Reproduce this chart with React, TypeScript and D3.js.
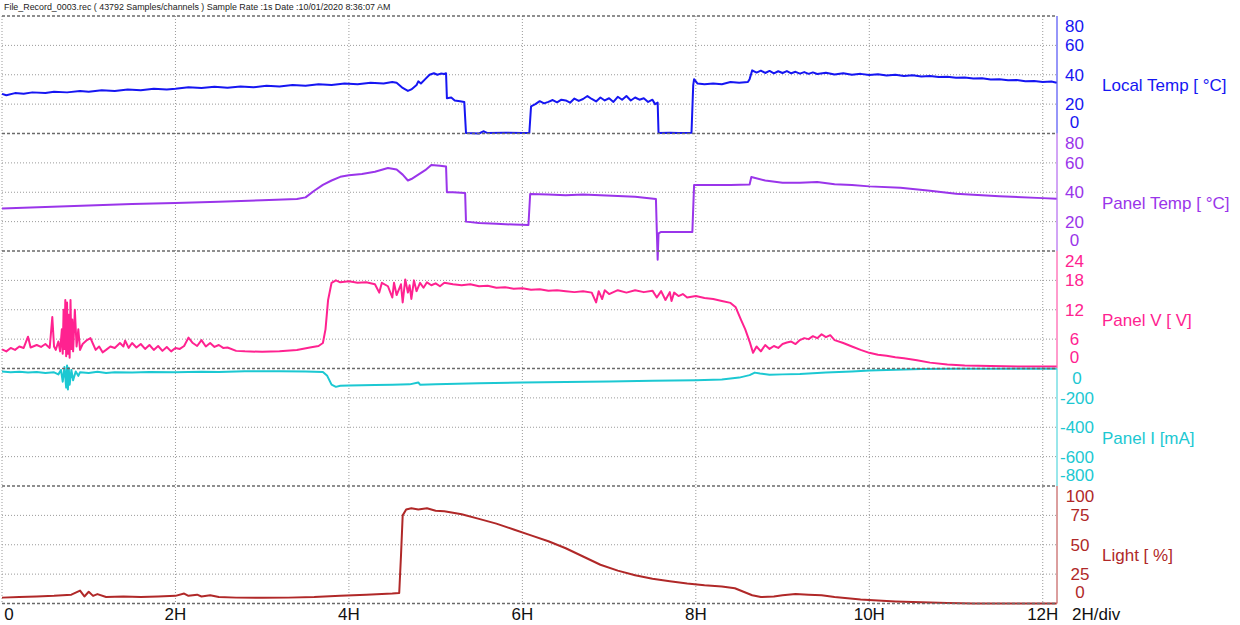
import React from "react";
import * as d3 from "d3";

const titleText =
  "File_Record_0003.rec ( 43792 Samples/channels ) Sample Rate :1s Date :10/01/2020 8:36:07 AM";

const xTickHours = [0, 2, 4, 6, 8, 10, 12];
const xTickLabels = ["0", "2H", "4H", "6H", "8H", "10H", "12H"];
const xUnitLabel = "2H/div";
const totalHours = 43792 / 3600;

const seriesNames = ["Local Temp [ °C]", "Panel Temp [ °C]", "Panel V [ V]", "Panel I [mA]", "Light [ %]"];
const seriesDomains: [number, number][] = [[0, 80], [0, 80], [0, 24], [-800, 0], [0, 100]];
const seriesTicks = [
  [80, 60, 40, 20, 0],
  [80, 60, 40, 20, 0],
  [24, 18, 12, 6, 0],
  [0, -200, -400, -600, -800],
  [100, 75, 50, 25, 0],
];

// [hours, value]
const localTemp: [number, number][] = [
  [0, 27], [0.05, 26], [0.15, 27.5], [0.25, 27], [0.35, 28], [0.5, 27.5], [0.6, 28.5], [0.75, 28], [0.9, 29],
  [1.0, 28.5], [1.15, 29.5], [1.3, 29], [1.45, 30], [1.6, 29.5], [1.75, 30.5], [1.9, 30], [2.0, 30.5],
  [2.15, 31.5], [2.3, 31], [2.45, 31.8], [2.6, 31.2], [2.75, 32], [2.9, 31.5], [3.05, 32.5], [3.2, 32],
  [3.35, 33], [3.5, 32.5], [3.65, 33.5], [3.8, 33], [3.95, 34], [4.1, 33.5], [4.25, 34.5], [4.4, 34],
  [4.5, 35], [4.55, 34.5], [4.62, 31], [4.68, 29], [4.72, 30], [4.78, 33], [4.8, 35.5], [4.83, 34],
  [4.88, 37], [4.93, 40], [4.98, 41], [5.02, 40], [5.06, 40.8], [5.1, 40.5], [5.12, 41], [5.13, 24],
  [5.18, 24.5], [5.22, 22.5], [5.28, 22], [5.33, 21.5], [5.35, 0.3], [5.5, 0], [5.55, 1.5], [5.6, 0.3],
  [5.8, 0.5], [6.0, 0.3], [6.08, 0.3], [6.1, 18.5], [6.15, 20], [6.2, 22], [6.25, 20.5], [6.3, 21.5],
  [6.35, 22.8], [6.4, 21.2], [6.45, 23], [6.5, 22.5], [6.55, 21], [6.6, 23.8], [6.65, 22.2], [6.7, 23.5],
  [6.75, 25.5], [6.8, 23.5], [6.85, 21.8], [6.9, 24.5], [6.95, 22.5], [7.0, 24], [7.05, 21.5],
  [7.1, 25], [7.15, 23], [7.2, 25.5], [7.25, 22.5], [7.3, 24.5], [7.35, 23], [7.4, 24], [7.45, 21.5],
  [7.5, 23], [7.53, 20], [7.56, 21], [7.57, 0.3], [7.7, 0.5], [7.8, 0.3], [7.95, 0.5], [7.97, 33],
  [7.98, 37], [8.02, 34], [8.1, 33.5], [8.2, 34], [8.3, 33.5], [8.4, 35], [8.5, 34.5], [8.6, 35],
  [8.62, 37], [8.65, 43], [8.7, 41.5], [8.75, 42.8], [8.8, 41.2], [8.85, 42.6], [8.9, 41], [8.95, 42.4],
  [9.0, 41.2], [9.05, 42.5], [9.1, 41], [9.15, 42], [9.2, 40.8], [9.25, 41.8], [9.3, 40.6], [9.35, 41.6],
  [9.4, 40.5], [9.5, 41.3], [9.6, 40.2], [9.7, 41], [9.8, 40], [9.9, 40.6], [10.0, 39.8],
  [10.1, 40.4], [10.2, 39.5], [10.3, 40], [10.4, 39.2], [10.5, 39.6], [10.6, 38.8], [10.7, 39.2],
  [10.8, 38.5], [10.9, 38.6], [11.0, 38], [11.1, 38.2], [11.2, 37.5], [11.3, 37.6], [11.4, 36.8],
  [11.5, 37], [11.6, 36.2], [11.7, 36.4], [11.8, 35.6], [11.9, 35.8], [12.0, 35], [12.1, 35.4], [12.16, 34.5],
];

const panelTemp: [number, number][] = [
  [0, 29], [0.5, 30], [1.0, 31], [1.5, 32], [2.0, 32.7], [2.5, 33.5], [3.0, 34.5], [3.4, 35.4], [3.5, 36.5],
  [3.6, 41], [3.7, 45], [3.8, 48], [3.9, 50.5], [4.0, 51.5], [4.15, 52.5], [4.3, 54], [4.45, 56.5],
  [4.55, 55.5], [4.62, 52], [4.68, 48], [4.72, 49], [4.8, 52], [4.88, 55], [4.95, 58.5], [5.05, 58],
  [5.12, 57.5], [5.13, 40], [5.2, 40], [5.34, 39.5], [5.35, 20], [5.5, 19], [5.7, 18.5], [5.9, 18],
  [6.07, 17.7], [6.09, 38.8], [6.3, 38.5], [6.5, 38], [6.7, 38.5], [6.9, 38], [7.1, 37.5], [7.3, 37],
  [7.54, 35.4], [7.55, 14], [7.56, -6], [7.57, 12], [7.6, 13], [7.8, 13], [7.96, 13], [7.98, 45],
  [8.2, 45], [8.4, 45], [8.62, 45.2], [8.64, 50.4], [8.8, 48], [9.0, 46.5], [9.2, 46.5], [9.4, 47],
  [9.6, 45.5], [9.8, 45], [10.0, 44], [10.36, 43], [10.7, 41], [11.0, 39], [11.5, 37.2], [12.0, 36],
  [12.16, 35.6],
];

const panelV: [number, number][] = [
  [0, 3.9], [0.05, 3.5], [0.1, 4.2], [0.15, 3.8], [0.2, 4.5], [0.25, 4.2], [0.3, 6.5], [0.33, 4.3],
  [0.4, 4.8], [0.45, 4.4], [0.5, 5], [0.55, 4.2], [0.58, 10.5], [0.6, 4.5], [0.62, 3.8], [0.65, 5.5],
  [0.67, 3.5], [0.69, 8], [0.7, 3], [0.71, 12], [0.72, 4], [0.73, 14], [0.74, 2.5], [0.75, 13.5],
  [0.76, 3], [0.77, 11], [0.78, 2.2], [0.79, 14], [0.8, 4], [0.81, 10], [0.82, 3.5], [0.84, 12],
  [0.86, 4.5], [0.88, 8], [0.9, 3.8], [0.93, 5], [0.98, 5.8], [1.02, 6.2], [1.05, 5], [1.08, 3.8],
  [1.12, 4.5], [1.16, 3.3], [1.2, 3.8], [1.25, 4.5], [1.3, 4.2], [1.36, 5.2], [1.4, 4.5], [1.42, 5.7],
  [1.46, 4.2], [1.5, 5.2], [1.55, 4.3], [1.6, 5], [1.65, 4], [1.7, 4.8], [1.75, 3.8], [1.8, 4.6],
  [1.85, 3.6], [1.9, 4.4], [1.95, 3.5], [2.0, 4.2], [2.05, 4], [2.1, 4.6], [2.15, 6.3], [2.2, 5.2],
  [2.25, 4.6], [2.3, 5.8], [2.35, 4.5], [2.4, 5.2], [2.45, 4.4], [2.5, 4.8], [2.55, 4.2], [2.6, 4.3],
  [2.7, 3.6], [2.8, 3.5], [3.0, 3.4], [3.2, 3.5], [3.4, 3.8], [3.55, 4.3], [3.65, 4.6], [3.7, 5.2],
  [3.73, 8], [3.76, 14], [3.8, 17.5], [3.85, 18], [3.9, 17.6], [4.0, 17.8], [4.1, 17.5], [4.2, 17.6],
  [4.3, 17.2], [4.35, 15.5], [4.38, 17.5], [4.45, 16.8], [4.5, 14.5], [4.52, 17.5], [4.55, 15],
  [4.6, 17.2], [4.62, 13.5], [4.65, 18.2], [4.68, 15.5], [4.7, 17], [4.72, 14.2], [4.75, 18],
  [4.78, 15.8], [4.82, 17.5], [4.86, 16.5], [4.9, 17.6], [4.95, 17], [5.0, 17.4], [5.05, 16.8],
  [5.1, 17.5], [5.2, 17.2], [5.3, 17], [5.4, 17.2], [5.5, 16.8], [5.6, 16.9], [5.7, 16.5], [5.8, 16.6],
  [5.9, 16.3], [6.0, 16.4], [6.1, 16.1], [6.2, 16.2], [6.3, 15.9], [6.4, 16], [6.5, 15.8], [6.6, 15.6],
  [6.7, 15.8], [6.8, 15.5], [6.85, 13.5], [6.88, 15.8], [6.92, 14.2], [6.95, 16], [7.0, 15.2],
  [7.1, 16], [7.2, 15.5], [7.3, 16], [7.4, 15.6], [7.5, 15.9], [7.55, 14.5], [7.6, 15.8], [7.65, 14],
  [7.7, 15.6], [7.72, 13.8], [7.75, 15.5], [7.8, 14.8], [7.85, 15.2], [7.9, 14.5], [8.0, 14.8],
  [8.1, 14.4], [8.2, 14.2], [8.3, 13.8], [8.4, 13.4], [8.46, 12.5], [8.52, 10], [8.57, 8], [8.62, 5.5],
  [8.66, 3.2], [8.7, 4.5], [8.75, 3.5], [8.8, 4.8], [8.85, 4], [8.9, 4.6], [8.95, 4.2], [9.0, 5],
  [9.05, 5.3], [9.1, 5.5], [9.15, 5], [9.2, 5.8], [9.25, 6.2], [9.3, 6], [9.35, 6.6], [9.4, 6.2],
  [9.45, 7], [9.5, 6.4], [9.55, 6.8], [9.6, 5.8], [9.7, 5.2], [9.8, 4.5], [9.9, 3.8], [10.0, 3.2],
  [10.1, 2.8], [10.2, 2.6], [10.3, 2.3], [10.4, 2.1], [10.55, 1.7], [10.7, 1.2], [10.9, 0.8],
  [11.1, 0.6], [11.4, 0.5], [11.8, 0.4], [12.16, 0.4],
];

const panelI: [number, number][] = [
  [0, -20], [0.1, -25], [0.2, -22], [0.3, -28], [0.4, -24], [0.5, -30], [0.6, -26], [0.65, -40],
  [0.68, -10], [0.7, -90], [0.72, 10], [0.74, -130], [0.75, 20], [0.76, -143], [0.77, 5], [0.78, -110],
  [0.8, -10], [0.82, -80], [0.85, -20], [0.88, -50], [0.9, -25], [1.0, -30], [1.1, -22], [1.2, -30],
  [1.3, -25], [1.5, -28], [1.7, -24], [2.0, -26], [2.3, -22], [2.5, -24], [2.8, -18], [3.2, -18],
  [3.5, -20], [3.7, -24], [3.75, -50], [3.8, -110], [3.85, -125], [3.9, -118], [4.0, -115], [4.3, -112],
  [4.5, -110], [4.7, -108], [4.8, -95], [4.82, -110], [5.0, -108], [5.5, -100], [6.0, -96], [6.5, -92],
  [7.0, -88], [7.5, -84], [8.0, -80], [8.3, -75], [8.5, -62], [8.62, -45], [8.68, -28], [8.74, -34],
  [8.85, -42], [9.0, -40], [9.2, -38], [9.5, -28], [9.8, -20], [10.0, -14], [10.3, -8], [10.6, -4],
  [11.0, -2], [12.16, -1],
];

const light: [number, number][] = [
  [0, 5], [0.2, 5.5], [0.4, 6], [0.6, 6.5], [0.8, 7.5], [0.9, 11], [0.95, 6], [1.0, 10], [1.05, 6.5],
  [1.1, 8], [1.2, 5.5], [1.4, 6], [1.6, 5.5], [1.8, 6], [2.0, 6.5], [2.1, 8.5], [2.15, 6.5], [2.25, 7.5],
  [2.3, 6], [2.4, 7], [2.5, 5.5], [2.7, 5], [3.0, 4.8], [3.3, 5], [3.6, 5.5], [3.9, 6.5], [4.2, 7.5],
  [4.5, 8.5], [4.58, 9], [4.6, 40], [4.62, 75], [4.66, 80], [4.72, 81], [4.8, 80], [4.9, 81], [5.0, 79],
  [5.1, 78.5], [5.3, 76], [5.5, 72], [5.7, 68], [5.9, 63], [6.1, 58], [6.3, 53], [6.5, 47], [6.7, 40],
  [6.9, 33], [7.1, 28], [7.3, 24], [7.5, 21], [7.7, 19], [7.9, 17], [8.1, 15.5], [8.3, 14.5], [8.45, 13],
  [8.55, 10], [8.65, 7], [8.75, 5.5], [8.9, 6], [9.0, 7], [9.15, 8], [9.3, 7.5], [9.45, 7], [9.6, 5.5],
  [9.75, 4.5], [9.9, 3.5], [10.1, 2.5], [10.3, 1.8], [10.6, 1], [10.9, 0.4], [11.2, 0], [12.16, 0],
];

const seriesData = [localTemp, panelTemp, panelV, panelI, light];
const seriesColors = ["#1616f2", "#9a35ea", "#ff2290", "#1cc8d2", "#b02828"];
const tickCenters = [1074.5, 1074.5, 1074.5, 1077, 1080];

const W = 1240;
const H = 625;
const left = 2;
const right = 1057;
const top = 16;
const panelH = 117.5;

export default function App() {
  const x = d3.scaleLinear().domain([0, totalHours]).range([left, right]);
  const font = "'Liberation Sans', Arial, sans-serif";
  const bottom = top + panelH * 5;

  return (
    <svg
      width={W}
      height={H}
      style={{ position: "absolute", left: 0, top: 0, background: "#fff" }}
      fontFamily={font}
    >
      <rect x={0} y={0} width={W} height={H} fill="#fff" />
      <text x={4} y={10} fontSize={8.9} fill="#222">{titleText}</text>

      {xTickHours.map((h) => (
        <line key={"vg" + h} x1={x(h)} x2={x(h)} y1={top} y2={bottom} stroke="#9a9a9a" strokeWidth={1} strokeDasharray="1,2" />
      ))}

      {seriesData.map((data, i) => {
        const y0 = top + i * panelH;
        const y1 = y0 + panelH;
        const [dmin, dmax] = seriesDomains[i];
        const y = d3.scaleLinear().domain([dmin, dmax]).range([y1, y0]);
        const line = d3
          .line<[number, number]>()
          .x((d) => x(d[0]))
          .y((d) => y(d[1]));
        const color = seriesColors[i];
        const ticks = seriesTicks[i];
        return (
          <g key={"p" + i}>
            {[0.25, 0.5, 0.75].map((f) => (
              <line key={"hg" + f} x1={left} x2={right} y1={y0 + panelH * f} y2={y0 + panelH * f} stroke="#9a9a9a" strokeWidth={1} strokeDasharray="1,2" />
            ))}
            <line x1={right} x2={right} y1={y0} y2={y1} stroke={color} strokeOpacity={0.75} strokeWidth={1.2} />
            {ticks.map((t, k) => {
              let ty = y(t);
              if (k === 0) ty = y0 + 10;
              if (k === ticks.length - 1) ty = y1 - 11;
              return (
                <text key={"t" + k} x={tickCenters[i]} y={ty} dy="0.35em" textAnchor="middle" fontSize={17} fill={color}>
                  {t}
                </text>
              );
            })}
            <text x={1102} y={y0 + panelH / 2 + 10.5} dy="0.35em" fontSize={17} fill={color}>
              {seriesNames[i]}
            </text>
            <path d={line(data) || ""} fill="none" stroke={color} strokeWidth={2} strokeLinejoin="round" />
          </g>
        );
      })}

      {[0, 1, 2, 3, 4, 5].map((k) => (
        <line key={"sep" + k} x1={left} x2={right} y1={top + k * panelH} y2={top + k * panelH} stroke="#6a6a6a" strokeWidth={1.5} strokeDasharray="3,2" />
      ))}

      {xTickHours.map((h, k) => (
        <text key={"xl" + h} x={k === 0 ? 9 : x(h)} y={620} textAnchor="middle" fontSize={17} fill="#111">
          {xTickLabels[k]}
        </text>
      ))}
      <text x={1072} y={620} fontSize={17} fill="#111">{xUnitLabel}</text>
    </svg>
  );
}
